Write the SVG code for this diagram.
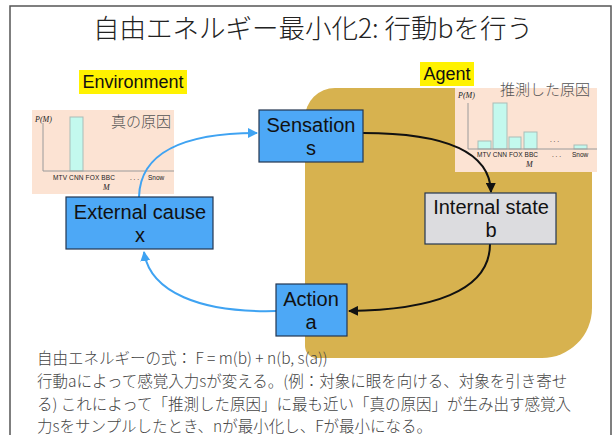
<svg xmlns="http://www.w3.org/2000/svg" width="613" height="435" viewBox="0 0 613 435">
<defs>
<style>
.jp{font-family:"Noto Sans CJK JP","Liberation Sans",sans-serif;}
.lat{font-family:"Liberation Sans",Arial,sans-serif;}
.box{stroke:#243650;stroke-width:1.2;}
.blue{fill:#4DA8F6;}
.gray{fill:#DCDCDF;}
.lbl{font-family:"Liberation Sans",Arial,sans-serif;font-size:20px;fill:#111;text-anchor:middle;}
.peach{fill:#FCE3D3;}
.bar{fill:#C3F9EE;stroke:#A9BDB8;stroke-width:1;}
.axis{stroke:#9A9A9A;stroke-width:1;fill:none;}
.tick{font-family:"Liberation Sans",Arial,sans-serif;font-size:6.5px;fill:#222;}
.ital{font-family:"Liberation Serif","Times New Roman",serif;font-style:italic;font-size:8px;fill:#222;}
.cap{font-family:"Noto Sans CJK JP",sans-serif;font-size:15px;fill:#555;font-weight:300;}
.body{font-family:"Noto Sans CJK JP","Liberation Sans",sans-serif;font-size:15.5px;fill:#444;font-weight:300;}
.cb{fill:none;stroke:#3FA3F2;stroke-width:2;}
.ck{fill:none;stroke:#111;stroke-width:2;}
</style>
<marker id="ab" viewBox="0 0 10 10" refX="9" refY="5" markerWidth="10" markerHeight="10" markerUnits="userSpaceOnUse" orient="auto">
<path d="M0,0 L10,5 L0,10 Z" fill="#3FA3F2"/>
</marker>
<marker id="ak" viewBox="0 0 10 10" refX="9" refY="5" markerWidth="10" markerHeight="10" markerUnits="userSpaceOnUse" orient="auto">
<path d="M0,0 L10,5 L0,10 Z" fill="#111"/>
</marker>
</defs>
<rect x="0" y="0" width="613" height="435" fill="#fff"/>
<rect x="10" y="6" width="601" height="440" fill="#fff" stroke="#555" stroke-width="1.5"/>
<text x="313" y="38" class="jp" font-size="26.5" font-weight="300" fill="#222" text-anchor="middle">自由エネルギー最小化2: 行動bを行う</text>

<g id="agent-area">
<path d="M335,88 H584 A8,8 0 0 1 592,96 V308 A50,50 0 0 1 542,358 H317 A12,12 0 0 1 305,346 V118 A30,30 0 0 1 335,88 Z" fill="#D7B24F"/>
</g>

<g id="environment-label">
<rect x="79" y="70" width="108" height="24" fill="#FFF200"/>
<text x="133" y="88" class="lat" font-size="18" fill="#111" text-anchor="middle">Environment</text>
</g>
<g id="agent-label">
<rect x="420" y="62" width="54" height="24" fill="#FFF200"/>
<text x="447" y="80" class="lat" font-size="18" fill="#111" text-anchor="middle">Agent</text>
</g>

<g id="true-cause-chart">
<rect x="32" y="110" width="142" height="84" class="peach"/>
<rect x="70" y="117" width="13" height="54" class="bar"/>
<path d="M43,123 V171 H174" class="axis"/>
<text x="35" y="122" class="ital">P(M)</text>
<text x="111" y="127" class="cap">真の原因</text>
<text x="53" y="180" class="tick" textLength="62">MTV CNN FOX BBC</text>
<text x="130" y="180" class="tick">. . .</text>
<text x="148" y="180" class="tick">Snow</text>
<text x="103" y="190" class="ital">M</text>
</g>

<g id="inferred-cause-chart">
<rect x="455" y="88" width="142" height="84" class="peach"/>
<rect x="478" y="141" width="13" height="8" class="bar"/>
<rect x="493" y="103" width="14" height="46" class="bar"/>
<rect x="509" y="137" width="12" height="12" class="bar"/>
<rect x="524" y="132" width="13" height="17" class="bar"/>
<rect x="574" y="145" width="13" height="4" class="bar"/>
<path d="M468,103 V149 H597" class="axis"/>
<text x="458" y="98" class="ital">P(M)</text>
<text x="500" y="95" class="cap">推測した原因</text>
<text x="550" y="142" class="tick">. . .</text>
<text x="477" y="157" class="tick" textLength="61">MTV CNN FOX BBC</text>
<text x="552" y="157" class="tick">. . .</text>
<text x="572" y="157" class="tick">Snow</text>
<text x="526" y="167" class="ital">M</text>
</g>

<g id="connectors">
<path d="M139,197 C140,152 185,133 257,133" class="cb" marker-end="url(#ab)"/>
<path d="M276,311 C200,313 150,292 144,252" class="cb" marker-end="url(#ab)"/>
<path d="M363,133 C440,133 490,150 491,192" class="ck" marker-end="url(#ak)"/>
<path d="M490,244 C490,292 430,310 349,311" class="ck" marker-end="url(#ak)"/>
</g>

<g id="node-sensation">
<rect x="259" y="110" width="104" height="52" class="box blue"/>
<text x="311" y="132" class="lbl">Sensation</text>
<text x="311" y="155" class="lbl">s</text>
</g>
<g id="node-external">
<rect x="66" y="197" width="147" height="52" class="box blue"/>
<text x="140" y="219" class="lbl">External cause</text>
<text x="140" y="242" class="lbl">x</text>
</g>
<g id="node-internal">
<rect x="425" y="193" width="131" height="51" class="box gray"/>
<text x="491" y="214" class="lbl">Internal state</text>
<text x="491" y="237" class="lbl">b</text>
</g>
<g id="node-action">
<rect x="276" y="284" width="71" height="52" class="box blue"/>
<text x="311" y="306" class="lbl">Action</text>
<text x="311" y="329" class="lbl">a</text>
</g>

<g id="description">
<text x="37" y="364" class="body">自由エネルギーの式： F = m(b) + n(b, s(a))</text>
<text x="37" y="387" class="body">行動aによって感覚入力sが変える。(例：対象に眼を向ける、対象を引き寄せ</text>
<text x="37" y="410" class="body">る) これによって「推測した原因」に最も近い「真の原因」が生み出す感覚入</text>
<text x="37" y="432" class="body">力sをサンプルしたとき、nが最小化し、Fが最小になる。</text>
</g>
</svg>
